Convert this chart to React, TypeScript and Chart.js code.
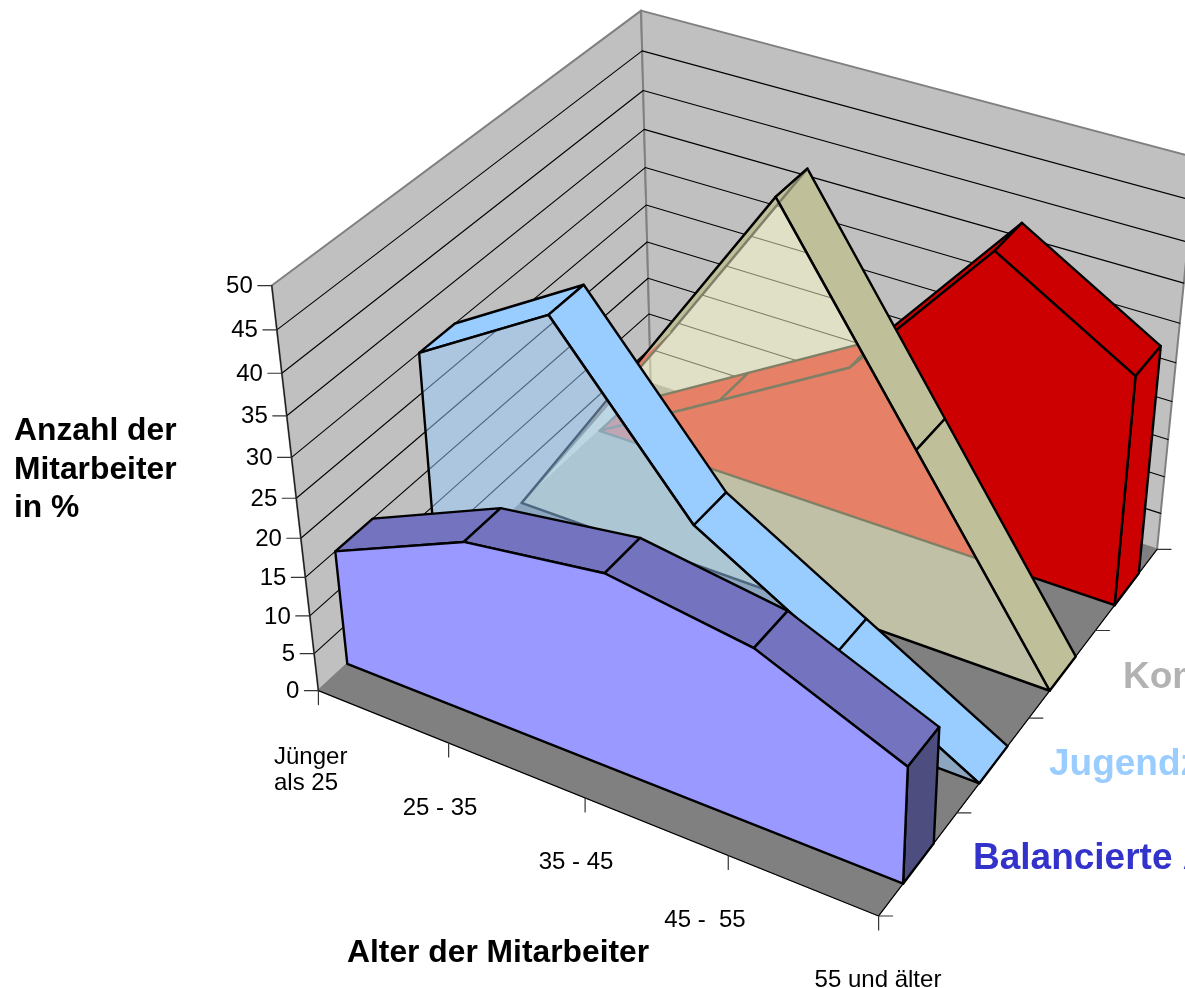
import React, { useEffect, useRef } from "react";
import { Chart, registerables } from "chart.js";

Chart.register(...registerables);

// ---- data -------------------------------------------------------------
const categories = [["Jünger", "als 25"], ["25 - 35"], ["35 - 45"], ["45 -  55"], ["55 und älter"]];
const valueTicks = [0, 5, 10, 15, 20, 25, 30, 35, 40, 45, 50];
const seriesNames = [
  "Balancierte Altersstruktur",
  "Jugendzentrierte Altersstruktur",
  "Komprimierte Altersstruktur",
  "Alterszentrierte Altersstruktur",
];
const balancierte = [15, 22.5, 25, 22.5, 15];
const jugendzentrierte = [30, 40, 20, 10, 0];
const komprimierte = [0, 25, 50, 25, 0];
const alterszentrierte = [0, 10, 20, 40, 30];

// ---- 3D camera: least-squares projection fitted on the box of the chart --
const W = 1185;
const H = 988;
const MAXV = 50;
const anchors = [
  [0, 0, 0, 318, 690], [1, 0, 0, 879, 914], [1, 1, 0, 1157, 548], [0, 1, 0, 652, 385],
  [0, 0, 1, 272, 286], [0, 1, 1, 640, 10], [1, 1, 1, 1197, 158],
  [0.25, 0, 0, 448, 745], [0.5, 0, 0, 585, 800], [0.75, 0, 0, 729, 857],
  [1, 0.25, 0, 957, 813], [1, 0.5, 0, 1028, 719], [1, 0.75, 0, 1095, 630],
  [0, 0, 0.1, 314, 652], [0, 0, 0.2, 310, 614], [0, 0, 0.3, 305, 576], [0, 0, 0.4, 301, 538],
  [0, 0, 0.5, 296, 498], [0, 0, 0.6, 292, 458], [0, 0, 0.7, 287, 416], [0, 0, 0.8, 282, 374],
  [0, 0, 0.9, 277, 330],
];

function fitCamera(): number[] {
  const n = 11;
  const A = Array.from({ length: n }, () => new Array(n + 1).fill(0));
  const add = (row: number[], rhs: number) => {
    for (let i = 0; i < n; i++) {
      for (let j = 0; j < n; j++) A[i][j] += row[i] * row[j];
      A[i][n] += row[i] * rhs;
    }
  };
  for (const [u, v, h, px, py] of anchors) {
    const x = px / 1000;
    const y = py / 1000;
    add([u, v, h, 1, 0, 0, 0, 0, -x * u, -x * v, -x * h], x);
    add([0, 0, 0, 0, u, v, h, 1, -y * u, -y * v, -y * h], y);
  }
  for (let i = 0; i < n; i++) {
    let p = i;
    for (let r = i + 1; r < n; r++) if (Math.abs(A[r][i]) > Math.abs(A[p][i])) p = r;
    [A[i], A[p]] = [A[p], A[i]];
    for (let r = 0; r < n; r++) {
      if (r === i) continue;
      const f = A[r][i] / A[i][i];
      for (let c = i; c <= n; c++) A[r][c] -= f * A[i][c];
    }
  }
  return A.map((row, i) => row[n] / row[i]);
}
const cam = fitCamera();

// category index, depth 0..1, value -> pixel-space point for the x / y scales
function project(cat: number, depth: number, value: number) {
  const u = cat / (categories.length - 1);
  const h = value / MAXV;
  const w = cam[8] * u + cam[9] * depth + cam[10] * h + 1;
  return {
    x: ((cam[0] * u + cam[1] * depth + cam[2] * h + cam[3]) / w) * 1000,
    y: ((cam[4] * u + cam[5] * depth + cam[6] * h + cam[7]) / w) * 1000,
  };
}

type P = { x: number; y: number };
const built: any[] = [];
function shape(points: P[], stroke: string, width: number, fill?: string, closed = true) {
  built.push({
    type: "scatter",
    data: closed ? [...points, points[0]] : points,
    borderColor: stroke,
    borderWidth: width,
    polyFill: fill,
    showLine: true,
    tension: 0,
    pointRadius: 0,
    pointHoverRadius: 0,
    fill: false,
    borderJoinStyle: "round",
    borderCapStyle: "round",
  });
}

// walls and floor
const WALL = "#c0c0c0";
const EDGE = "#808080";
const FLOOR = "#808080";
const LAST = categories.length - 1;
shape([project(0, 0, 0), project(0, 1, 0), project(0, 1, MAXV), project(0, 0, MAXV)], EDGE, 2, WALL);
shape([project(0, 1, 0), project(LAST, 1, 0), project(LAST, 1, MAXV), project(0, 1, MAXV)], EDGE, 2, WALL);
shape([project(0, 0, 0), project(LAST, 0, 0), project(LAST, 1, 0), project(0, 1, 0)], EDGE, 1, FLOOR);
for (const t of valueTicks.slice(1, -1)) {
  shape([project(0, 0, t), project(0, 1, t), project(LAST, 1, t)], "#000000", 1.1, undefined, false);
}
// axes
shape([project(0, 0, 0), project(0, 0, MAXV)], "#1a1a1a", 1.2, undefined, false);
shape([project(0, 0, 0), project(LAST, 0, 0)], "#000000", 1.2, undefined, false);
shape([project(LAST, 0, 0), project(LAST, 1, 0)], "#000000", 1.2, undefined, false);
for (const t of valueTicks) {
  const p = project(0, 0, t);
  shape([p, { x: p.x - 14, y: p.y }], "#333333", 1.2, undefined, false);
}
categories.forEach((_, i) => {
  const p = project(i, 0, 0);
  shape([p, { x: p.x, y: p.y + 14 }], "#333333", 1.2, undefined, false);
});
seriesNames.forEach((_, i) => {
  const p = project(LAST, i / seriesNames.length, 0);
  shape([p, { x: p.x + 14, y: p.y }], "#333333", 1.2, undefined, false);
});
{
  const p = project(LAST, 1, 0);
  shape([p, { x: p.x + 14, y: p.y }], "#333333", 1.2, undefined, false);
}

// ribbons, back to front
const HALF = 0.049;
const NONE = "rgba(0,0,0,0)";
const THROUGH = "#80806a"; // a black edge seen through the half-transparent face
function ribbon(values: number[], slot: number, front: string, top: string, side: string, averted = 0, avertedFill = "") {
  const c = (slot + 0.5) / seriesNames.length;
  const v0 = c - HALF;
  const v1 = c + HALF;
  const K = "#000000";
  const later: (() => void)[] = [];
  for (let i = 0; i < values.length - 1; i++) {
    const a0 = project(i, v0, values[i]);
    const b0 = project(i + 1, v0, values[i + 1]);
    const b1 = project(i + 1, v1, values[i + 1]);
    const a1 = project(i, v1, values[i]);
    if (i < averted) {
      // surface that lies behind the face: its far edge shows through the face
      later.push(() => {
        if (i === 0) shape([a0, b1, b0], NONE, 0.01, avertedFill);
        else shape([a0, b0, b1, a1], NONE, 0.01, top);
        shape(i === 0 ? [a0, b1] : [a1, b1], THROUGH, 2.4, undefined, false);
      });
    } else {
      shape([a0, b0, b1, a1], K, 2.4, top);
    }
  }
  const e = values[values.length - 1];
  if (e > 0) {
    shape([project(LAST, v0, 0), project(LAST, v0, e), project(LAST, v1, e), project(LAST, v1, 0)], K, 2.4, side);
  }
  const outline = [project(0, v0, 0), ...values.map((val, i) => project(i, v0, val)), project(LAST, v0, 0)];
  shape(outline, NONE, 0.01, front);
  later.forEach((f) => f());
  if (averted > 0) {
    shape([project(averted, v0, values[averted]), project(averted, v0 + 2 * HALF, values[averted])], K, 2.4, undefined, false);
  }
  shape([...outline, project(0, v0, 0)], K, 2.4, undefined, false);
}
ribbon(alterszentrierte, 3, "#cc0000", "#cc0000", "#cc0000");
ribbon(komprimierte, 2, "rgba(255,255,204,0.5)", "#bfbf99", "#80806a", 2, "#e57f66");
ribbon(jugendzentrierte, 1, "rgba(153,204,255,0.5)", "#99ccff", "#4d6680");
ribbon(balancierte, 0, "#9999ff", "#7373bf", "#4d4d80");
built.forEach((d, i) => (d.order = built.length - i));

// ---- plugins: polygon faces and the 3D-placed text ------------------------
const faces = {
  id: "faces",
  beforeDatasetDraw(chart: any, args: any) {
    const ds = chart.data.datasets[args.index];
    if (!ds.polyFill) return;
    const pts = args.meta.data;
    const ctx = chart.ctx;
    ctx.save();
    ctx.beginPath();
    pts.forEach((p: any, i: number) => (i ? ctx.lineTo(p.x, p.y) : ctx.moveTo(p.x, p.y)));
    ctx.closePath();
    ctx.fillStyle = ds.polyFill;
    ctx.fill();
    ctx.restore();
  },
};

const catLabelAnchor = [
  { x: 274, y: 764, align: "left" },
  { x: 440, y: 815, align: "center" },
  { x: 576, y: 869, align: "center" },
  { x: 705, y: 927, align: "center" },
  { x: 878, y: 987, align: "center" },
];
const seriesLabelAnchor = [
  { x: 973, y: 869, color: "#3333cc" },
  { x: 1049, y: 775, color: "#99ccff" },
  { x: 1123, y: 688, color: "#b2b2b2" },
];
const SANS = '"Liberation Sans", Arial, sans-serif';

const labels = {
  id: "labels",
  afterDatasetsDraw(chart: any) {
    const { ctx, scales } = chart;
    ctx.save();
    ctx.fillStyle = "#000000";
    ctx.font = `24px ${SANS}`;
    ctx.textAlign = "right";
    ctx.textBaseline = "middle";
    for (const t of valueTicks) {
      const p = project(0, 0, t);
      ctx.fillText(String(t), scales.x.getPixelForValue(p.x - 19), scales.y.getPixelForValue(p.y + 1));
    }
    ctx.textBaseline = "alphabetic";
    categories.forEach((lines, i) => {
      const a = catLabelAnchor[i];
      ctx.textAlign = a.align;
      lines.forEach((l, k) => ctx.fillText(l, a.x, a.y + k * 26));
    });
    ctx.textAlign = "left";
    ctx.font = `bold 31.8px ${SANS}`;
    ["Anzahl der", "Mitarbeiter", "in %"].forEach((l, k) => ctx.fillText(l, 14, 440 + k * 38.5));
    ctx.fillText("Alter der Mitarbeiter", 347, 962);
    ctx.font = `bold 37px ${SANS}`;
    seriesLabelAnchor.forEach((a, i) => {
      ctx.fillStyle = a.color;
      ctx.fillText(seriesNames[i], a.x, a.y);
    });
    ctx.restore();
  },
};

export default function App() {
  const ref = useRef<HTMLCanvasElement>(null);
  useEffect(() => {
    const chart = new Chart(ref.current as HTMLCanvasElement, {
      type: "scatter",
      data: { datasets: built },
      options: {
        animation: false,
        responsive: false,
        devicePixelRatio: 1,
        layout: { padding: 0 },
        events: [],
        plugins: { legend: { display: false }, tooltip: { enabled: false }, title: { display: false } },
        scales: {
          x: { type: "linear", min: 0, max: W, display: false },
          y: { type: "linear", min: 0, max: H, reverse: true, display: false },
        },
      },
      plugins: [faces, labels],
    } as any);
    return () => chart.destroy();
  }, []);
  return (
    <div style={{ position: "absolute", left: 0, top: 0, width: W, height: H, background: "#ffffff" }}>
      <canvas ref={ref} width={W} height={H} style={{ display: "block" }} />
    </div>
  );
}
